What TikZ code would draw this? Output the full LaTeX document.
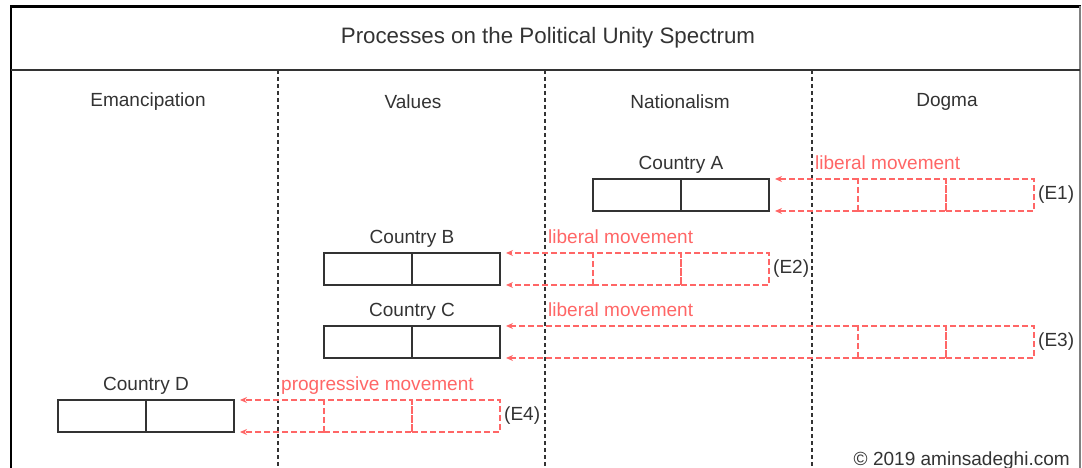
\documentclass[tikz,border=0pt]{standalone}
\usepackage{fontspec}
\setmainfont{Liberation Sans}
\usepackage{tikz}
\usetikzlibrary{positioning}
\usetikzlibrary{arrows.meta}
\definecolor{movered}{HTML}{FF6666}
\definecolor{inkgray}{HTML}{333333}

\tikzset{
  lane/.style={inkgray, line width=1.3bp, dash pattern=on 4bp off 3bp},
  half/.style={draw=inkgray, line width=1.6bp, minimum width=88bp, minimum height=32bp, inner sep=0pt, outer sep=0pt},
  ghost/.style={draw=movered, line width=1.2bp, dash pattern=on 6bp off 3bp, minimum width=88bp, minimum height=32bp, inner sep=0pt, outer sep=0pt},
  moveline/.style={movered, line width=1.2bp, dash pattern=on 6bp off 3bp, -{Stealth[length=7bp,width=6bp]}},
  movelabel/.style={text=movered, anchor=base west, inner sep=0pt},
  country/.style={text=inkgray, inner sep=0pt},
  tag/.style={text=inkgray, inner sep=1bp},
}

\begin{document}
\begin{tikzpicture}[x=1bp, y=-1bp, font=\fontsize{19.1}{23}\selectfont, text=inkgray]
\useasboundingbox (0,0) rectangle (1082,468);

% frame and header
\draw [line width=3bp, black] (10,6.5) -- (1081,6.5);
\draw [line width=1.5bp, black] (11,6) -- (11,468);
\draw [line width=1.2bp, gray] (1080,6) -- (1080,468);
\draw [line width=2bp, inkgray] (11,70) -- (1080,70);
\node [font=\fontsize{22.4}{26}\selectfont] (title) at (548,38) {Processes on the Political Unity Spectrum};

% lanes
\coordinate (L1) at (278,70);
\coordinate (L2) at (545,70);
\coordinate (L3) at (812,70);
\foreach \l in {L1,L2,L3}
  \draw [lane] (\l) -- (\l |- 0,468);
\node (emancipation) at (148,102) {Emancipation};
\node (values) at (413,102) {Values};
\node (nationalism) at (680,102) {Nationalism};
\node (dogma) at (947,102) {Dogma};

% Country A
\node [half] (A1) at (637,195) {};
\node [half, right=0pt of A1] (A2) {};
\node [country, above=5bp of A1.north east] (labA) {Country A};
\node [ghost] (gA1) at (902,195) {};
\node [ghost, right=0pt of gA1] (gA2) {};
\draw [moveline] (gA1.north west) -- ([xshift=6bp]A2.north east);
\draw [moveline] (gA1.south west) -- ([xshift=6bp]A2.south east);
\node [movelabel] (mA) at (815,170) {liberal movement};
\node [tag, right=3bp of gA2] (E1) {(E1)};

% Country B
\node [half] (B1) at (368,269) {};
\node [half, right=0pt of B1] (B2) {};
\node [country, above=5bp of B1.north east] (labB) {Country B};
\node [ghost] (gB1) at (637,269) {};
\node [ghost, right=0pt of gB1] (gB2) {};
\draw [moveline] (gB1.north west) -- ([xshift=6bp]B2.north east);
\draw [moveline] (gB1.south west) -- ([xshift=6bp]B2.south east);
\node [movelabel] (mB) at (548,244) {liberal movement};
\node [tag, right=3bp of gB2] (E2) {(E2)};

% Country C
\node [half] (C1) at (368,342) {};
\node [half, right=0pt of C1] (C2) {};
\node [country, above=5bp of C1.north east] (labC) {Country C};
\node [ghost] (gC1) at (902,342) {};
\node [ghost, right=0pt of gC1] (gC2) {};
\draw [moveline] (gC1.north west) -- ([xshift=6bp]C2.north east);
\draw [moveline] (gC1.south west) -- ([xshift=6bp]C2.south east);
\node [movelabel] (mC) at (548,317) {liberal movement};
\node [tag, right=3bp of gC2] (E3) {(E3)};

% Country D
\node [half] (D1) at (102,416) {};
\node [half, right=0pt of D1] (D2) {};
\node [country, above=5bp of D1.north east] (labD) {Country D};
\node [ghost] (gD1) at (368,416) {};
\node [ghost, right=0pt of gD1] (gD2) {};
\draw [moveline] (gD1.north west) -- ([xshift=6bp]D2.north east);
\draw [moveline] (gD1.south west) -- ([xshift=6bp]D2.south east);
\node [movelabel] (mD) at (281,391) {progressive movement};
\node [tag, right=3bp of gD2] (E4) {(E4)};

\node [anchor=base east, inner sep=0pt] (credit) at (1070,465) {© 2019 aminsadeghi.com};
\end{tikzpicture}
\end{document}
